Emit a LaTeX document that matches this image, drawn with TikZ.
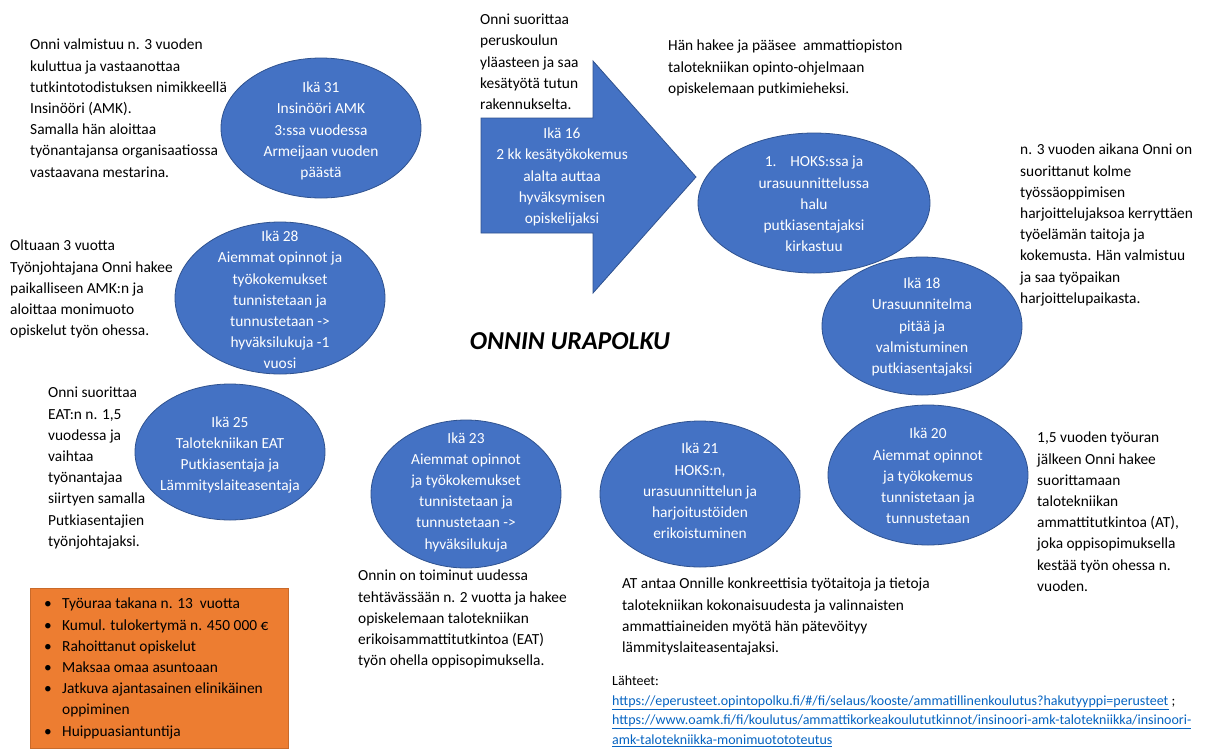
\documentclass[tikz,border=0pt]{standalone}
\usepackage{fontspec}
\setmainfont{Carlito}
\usepackage{tikz}
\usetikzlibrary{shapes.geometric}
\definecolor{officeblue}{HTML}{4472C4}
\definecolor{blueedge}{HTML}{2F528F}
\definecolor{officeorange}{HTML}{ED7D31}
\definecolor{linkblue}{HTML}{0563C1}
\newcommand{\txt}{\fontsize{15.4}{21.2}\selectfont}
\newcommand{\luoti}{\makebox[18pt][l]{\textbullet}}

\begin{document}
\begin{tikzpicture}[x=1pt,y=-1pt,
    blob/.style={ellipse, fill=officeblue, draw=blueedge, line width=0.8pt, inner sep=0pt},
    blobtext/.style={align=center, text=white, inner sep=0pt, font=\txt},
    note/.style={anchor=north west, align=left, inner sep=0pt, font=\txt}]

    \useasboundingbox (0,0) rectangle (1217,753);

    % Nuoli (ikä 16)
    \filldraw[fill=officeblue, draw=blueedge, line width=0.8pt]
        (481,118) -- (593,118) -- (593,61) -- (696,177) -- (593,293) -- (593,233) -- (481,233) -- cycle;
    \node[blobtext] (ika16t) at (562,177) {Ikä 16\\2 kk kesätyökokemus\\alalta auttaa\\hyväksymisen\\opiskelijaksi};

    % Ellipsit
    \node[blob, minimum width=200pt, minimum height=140pt] (ika31) at (321,128) {};
    \node[blobtext] (ika31t) at (321,131) {Ikä 31\\Insinööri AMK\\3:ssa vuodessa\\Armeijaan vuoden\\päästä};

    \node[blob, minimum width=232pt, minimum height=140pt] (hoks) at (814,203) {};
    \node[blobtext] (hokst) at (814,204) {1.\hspace{0.9em}HOKS:ssa ja\\urasuunnittelussa\\halu\\putkiasentajaksi\\kirkastuu};

    \node[blob, minimum width=200pt, minimum height=138pt] (ika18) at (922,326) {};
    \node[blobtext] (ika18t) at (922,327) {Ikä 18\\Urasuunnitelma\\pitää ja\\valmistuminen\\putkiasentajaksi};

    \node[blob, minimum width=200pt, minimum height=140pt] (ika20) at (928,475) {};
    \node[blobtext] (ika20t) at (928,476) {Ikä 20\\Aiemmat opinnot\\ja työkokemus\\tunnistetaan ja\\tunnustetaan};

    \node[blob, minimum width=200pt, minimum height=146pt] (ika21) at (700,494) {};
    \node[blobtext] (ika21t) at (700,491) {Ikä 21\\HOKS:n,\\urasuunnittelun ja\\harjoitustöiden\\erikoistuminen};

    \node[blob, minimum width=190pt, minimum height=148pt] (ika23) at (466,494) {};
    \node[blobtext] (ika23t) at (466,492) {Ikä 23\\Aiemmat opinnot\\ja työkokemukset\\tunnistetaan ja\\tunnustetaan ->\\hyväksilukuja};

    \node[blob, minimum width=190pt, minimum height=136pt] (ika25) at (230,452) {};
    \node[blobtext] (ika25t) at (230,455) {Ikä 25\\Talotekniikan EAT\\Putkiasentaja ja\\Lämmityslaiteasentaja};

    \node[blob, minimum width=210pt, minimum height=152pt] (ika28) at (280,298) {};
    \node[blobtext] (ika28t) at (280,300) {Ikä 28\\Aiemmat opinnot ja\\työkokemukset\\tunnistetaan ja\\tunnustetaan ->\\hyväksilukuja -1\\vuosi};

    % Otsikko
    \node[font=\fontsize{25.8}{30}\selectfont\bfseries\itshape] (otsikko) at (570,341) {ONNIN URAPOLKU};

    % Tekstit
    \node[note] (teksti31) at (30,39) {Onni valmistuu n. 3 vuoden\\kuluttua ja vastaanottaa\\tutkintotodistuksen nimikkeellä\\Insinööri (AMK).\\Samalla hän aloittaa\\työnantajansa organisaatiossa\\vastaavana mestarina.};
    \node[note] (teksti16) at (480,14) {Onni suorittaa\\peruskoulun\\yläasteen ja saa\\kesätyötä tutun\\rakennukselta.};
    \node[note] (tekstihoks) at (668,40) {Hän hakee ja pääsee~ ammattiopiston\\talotekniikan opinto-ohjelmaan\\opiskelemaan putkimieheksi.};
    \node[note] (teksti18) at (1020,144) {n. 3 vuoden aikana Onni on\\suorittanut kolme\\työssäoppimisen\\harjoittelujaksoa kerryttäen\\työelämän taitoja ja\\kokemusta. Hän valmistuu\\ja saa työpaikan\\harjoittelupaikasta.};
    \node[note] (teksti28) at (10,240) {Oltuaan 3 vuotta\\Työnjohtajana Onni hakee\\paikalliseen AMK:n ja\\aloittaa monimuoto\\opiskelut työn ohessa.};
    \node[note] (teksti25) at (48,387) {Onni suorittaa\\EAT:n n. 1,5\\vuodessa ja\\vaihtaa\\työnantajaa\\siirtyen samalla\\Putkiasentajien\\työnjohtajaksi.};
    \node[note] (teksti23) at (358,570) {Onnin on toiminut uudessa\\tehtävässään n. 2 vuotta ja hakee\\opiskelemaan talotekniikan\\erikoisammattitutkintoa (EAT)\\työn ohella oppisopimuksella.};
    \node[note] (teksti21) at (622,578) {AT antaa Onnille konkreettisia työtaitoja ja tietoja\\talotekniikan kokonaisuudesta ja valinnaisten\\ammattiaineiden myötä hän pätevöityy\\lämmityslaiteasentajaksi.};
    \node[note] (teksti20) at (1037,432) {1,5 vuoden työuran\\jälkeen Onni hakee\\suorittamaan\\talotekniikan\\ammattitutkintoa (AT),\\joka oppisopimuksella\\kestää työn ohessa n.\\vuoden.};

    % Oranssi laatikko
    \node[anchor=north west, fill=officeorange, draw=officeorange!85!black, line width=0.6pt,
          minimum width=258pt, minimum height=160pt, inner sep=0pt] (tulos) at (30,588) {};
    \node[note] (tulosteksti) at (44,598) {\luoti Työuraa takana n. 13\ \ vuotta\\\luoti Kumul. tulokertymä n. 450 000 €\\\luoti Rahoittanut opiskelut\\\luoti Maksaa omaa asuntoaan\\\luoti Jatkuva ajantasainen elinikäinen\\\hspace*{18pt}oppiminen\\\luoti Huippuasiantuntija};

    % Lähteet
    \node[note, font=\fontsize{14}{19.5}\selectfont] (lahteet) at (612,676) {Lähteet:\\
        \textcolor{linkblue}{\underline{https://eperusteet.opintopolku.fi/\#/fi/selaus/kooste/ammatillinenkoulutus?hakutyyppi=perusteet}} ;\\
        \textcolor{linkblue}{\underline{https://www.oamk.fi/fi/koulutus/ammattikorkeakoulututkinnot/insinoori-amk-talotekniikka/insinoori-}}\\
        \textcolor{linkblue}{\underline{amk-talotekniikka-monimuotototeutus}}};
\end{tikzpicture}
\end{document}
